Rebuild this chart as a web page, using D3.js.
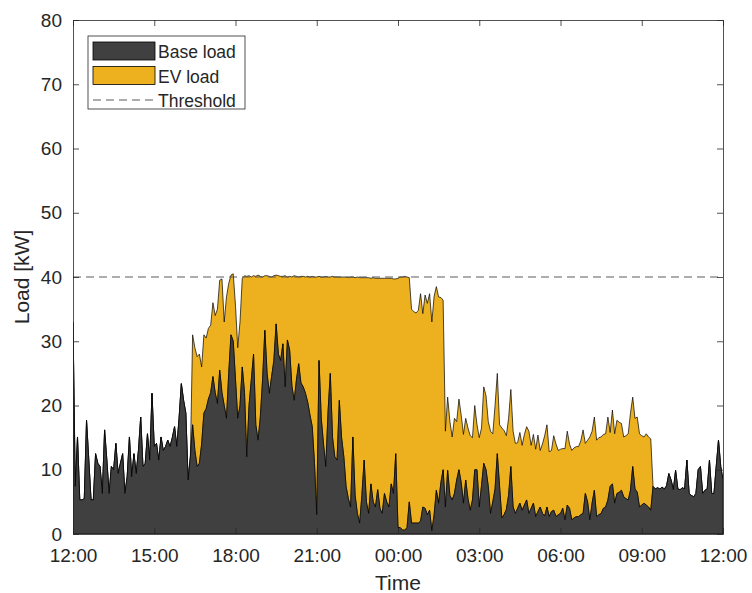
<!DOCTYPE html>
<html>
<head>
<meta charset="utf-8">
<script src="https://cdn.jsdelivr.net/npm/d3@7"></script>
<style>
    body {
        margin: 0;
        background: #fff;
    }

    svg text {
        font-family: "Liberation Sans", Arial, Helvetica, sans-serif;
        fill: #262626;
    }

    .axis path,
    .axis line {
        stroke: #262626;
        stroke-width: 0.8px;
    }

    .axis text {
        font-size: 19px;
    }
</style>
</head>
<body>
<div id="chart"></div>
<script>
    // 5 minute samples, 12:00 -> 12:00 next day, one row per hour
    var startTime = new Date(2020, 0, 1, 12, 0);
    var stepMinutes = 5;

    var baseLoad = [
        33, 7.4, 15.1, 5.3, 5.3, 5.5, 17.7, 11.5, 5.3, 5.3, 12.5, 11,
        10.5, 6.3, 16.2, 11.5, 6.3, 10.5, 10, 14.1, 9.4, 11, 12.5, 6.3,
        8.9, 15.1, 8.9, 12.5, 9.4, 13, 18.2, 10.5, 11, 15.6, 11.5, 21.9,
        13.6, 14.1, 11.5, 15.1, 13, 13.6, 14.6, 13.6, 15, 16.7, 13.6, 18,
        23.4, 20.8, 18.8, 8.4, 12, 17, 13, 10.5, 11, 14, 18.8, 19.5,
        21, 22, 24.5, 22, 20.3, 25.5, 22, 20, 18, 25, 31, 30,
        24, 18, 20, 26, 22, 12, 20, 24, 28, 17, 14.6, 18.2,
        24, 31.7, 25, 21.9, 24.5, 27, 32.7, 28, 27, 29.6, 22.9, 30.2,
        28.6, 23, 20.8, 24, 26.5, 23.5, 22.9, 21.9, 20.5, 18.5, 16.7, 11,
        3, 27, 18, 14, 10.5, 19, 25, 15, 12, 11.5, 20.8, 15,
        12, 7.4, 5.5, 4.2, 15.1, 6, 3.2, 1.7, 6, 11.5, 5, 3.2,
        7.8, 5, 4.2, 6.9, 4, 3.2, 6.3, 5, 4.2, 7.8, 6.3, 12.5,
        1, 1, 0.6, 0.6, 1, 5, 1.7, 1.7, 1.7, 1.7, 2, 4.2,
        4, 3, 3.7, 0.5, 3, 6.8, 4.8, 8, 10, 4.2, 9.9, 6,
        5.3, 6.3, 8.4, 10, 8, 4.8, 8.4, 5.5, 3.7, 5.3, 10, 10,
        4.2, 7.5, 11, 10, 7.4, 3.2, 5, 7, 12.5, 7.4, 2.5, 3,
        3.8, 6, 10.5, 4.2, 3.2, 4, 4.8, 3.7, 4.5, 5.3, 3.2, 4,
        4.8, 2.7, 3.5, 4.2, 3.2, 2.8, 4.2, 2.7, 3.5, 3.7, 2.7, 3,
        3.2, 4, 2.2, 4.5, 4, 2.2, 2.5, 2.7, 2.7, 3, 3.2, 6.3,
        5, 2.2, 4.8, 6.8, 2.7, 3, 3.2, 4, 4.2, 5.3, 7.4, 7.8,
        4.8, 6.3, 6.5, 6.8, 5.8, 5.5, 5.3, 6.8, 10.5, 7, 6.5, 4.2,
        4.5, 4.8, 4.5, 4.2, 3.7, 7.4, 7, 7.2, 7, 7.3, 7, 7.5,
        9.4, 8.4, 6.9, 9.9, 7, 6.9, 7.2, 7, 11.5, 6.3, 6, 5.8,
        6.3, 10, 10.5, 6.3, 6.8, 7, 11.5, 6.3, 6.3, 10.5, 14.6, 10.5,
        8.4
    ];

    var evLoad = [
        0, 0, 0, 0, 0, 0, 0, 0, 0, 0, 0, 0,
        0, 0, 0, 0, 0, 0, 0, 0, 0, 0, 0, 0,
        0, 0, 0, 0, 0, 0, 0, 0, 0, 0, 0, 0,
        0, 0, 0, 0, 0, 0, 0, 0, 0, 0, 0, 0,
        0, 0, 0, 0, 0, 14, 16, 17.1, 17, 12, 12.2, 11,
        11, 10.5, 11.5, 12, 14.7, 14, 17.7, 13, 18.9, 14, 9.3, 10.5,
        11.5, 11, 13, 13.8, 18.2, 28.1, 20.2, 16, 12.2, 23.1, 25.7, 21.9,
        16, 8.5, 15.2, 18.2, 15.5, 13.2, 7.6, 12.2, 13.1, 10.5, 17.3, 9.8,
        11.5, 17, 19.4, 16.1, 13.5, 16.6, 17.2, 18.1, 19.6, 21.5, 23.4, 29,
        37, 13.1, 22, 26, 29.6, 21, 15, 25.1, 28, 28.5, 19.2, 25,
        28, 32.6, 34.4, 35.8, 24.9, 33.9, 36.8, 38.2, 33.9, 28.4, 34.9, 36.7,
        32, 34.9, 35.6, 32.9, 35.8, 36.6, 33.5, 34.8, 35.6, 32, 33.4, 27.2,
        38.8, 39, 39.4, 39.5, 39, 34.9, 33.3, 32.9, 32.7, 33.1, 35.4, 30.1,
        33.2, 32.9, 33.7, 32.5, 34, 31.7, 32.1, 28.8, 26.4, 11.8, 11.4, 11.5,
        9.8, 11.7, 9.1, 11, 10.5, 10.7, 9.6, 11, 11.6, 9.7, 10, 7,
        10.8, 9, 11.9, 11.5, 10.1, 12.8, 10.6, 13, 12.5, 9.6, 14, 13.1,
        11.5, 12, 12, 11.8, 10.9, 10.2, 11, 10.1, 11, 11.4, 12.8, 9.8,
        10.7, 10.5, 11.9, 8.8, 10.8, 12.5, 12.8, 10.1, 9.5, 11.6, 11.3, 10,
        10, 9.3, 11.1, 11.5, 10, 10.8, 10.9, 10.9, 10.9, 11.5, 13, 7.8,
        9.6, 12.9, 11.2, 11.4, 11.9, 12, 11.9, 11.5, 11.4, 12.9, 8.4, 11.5,
        10.8, 11.4, 10.9, 10.4, 9.3, 9.8, 10.3, 12, 10.8, 11, 11.7, 11.4,
        10.8, 10.3, 11.1, 10.9, 11.1, 0, 0, 0, 0, 0, 0, 0,
        0, 0, 0, 0, 0, 0, 0, 0, 0, 0, 0, 0,
        0, 0, 0, 0, 0, 0, 0, 0, 0, 0, 0, 0,
        0
    ];

    var threshold = 40;
    var yTicks = [0, 10, 20, 30, 40, 50, 60, 70, 80];
    var xTickHours = [0, 3, 6, 9, 12, 15, 18, 21, 24];
    var seriesNames = ['Base load', 'EV load'];
    var seriesColors = ['#404040', '#edb120'];

    var width = 752,
        height = 593,
        margin = { left: 73, right: 29, top: 20, bottom: 59 };

    var svg = d3.select('#chart').append('svg')
        .attr('width', width)
        .attr('height', height);

    var endTime = d3.timeHour.offset(startTime, 24);

    var x = d3.scaleTime()
        .domain([startTime, endTime])
        .range([margin.left, width - margin.right]);

    var y = d3.scaleLinear()
        .domain([0, 80])
        .range([height - margin.bottom, margin.top]);

    var rows = baseLoad.map(function (b, i) {
        return {
            time: d3.timeMinute.offset(startTime, i * stepMinutes),
            base: b,
            ev: evLoad[i]
        };
    });

    var stack = d3.stack().keys(['base', 'ev']);
    var layers = stack(rows);

    svg.append('clipPath').attr('id', 'plotClip')
        .append('rect')
        .attr('x', x.range()[0])
        .attr('y', y.range()[1])
        .attr('width', x.range()[1] - x.range()[0])
        .attr('height', y.range()[0] - y.range()[1]);

    var area = d3.area()
        .x(function (d) { return x(d.data.time); })
        .y0(function (d) { return y(d[0]); })
        .y1(function (d) { return y(d[1]); });

    var plot = svg.append('g').attr('clip-path', 'url(#plotClip)');

    // draw EV first so the base outline sits on top
    plot.selectAll('path.layer')
        .data(layers.slice().reverse())
        .enter().append('path')
        .attr('class', 'layer')
        .attr('d', area)
        .style('fill', function (d) { return seriesColors[d.index]; })
        .style('stroke', '#000')
        .style('stroke-width', 0.7)
        .style('stroke-linejoin', 'round');

    plot.append('line')
        .attr('x1', x.range()[0])
        .attr('x2', x.range()[1])
        .attr('y1', y(threshold))
        .attr('y2', y(threshold))
        .style('stroke', '#5a5a5a')
        .style('stroke-width', 1)
        .style('stroke-dasharray', '8,5');

    var xTicks = xTickHours.map(function (h) { return d3.timeHour.offset(startTime, h); });
    var fmt = d3.timeFormat('%H:%M');

    svg.append('g').attr('class', 'axis')
        .attr('transform', 'translate(0,' + y(0) + ')')
        .call(d3.axisBottom(x).tickValues(xTicks).tickFormat(fmt)
            .tickSizeInner(-6).tickSizeOuter(0).tickPadding(15));

    svg.append('g').attr('class', 'axis')
        .attr('transform', 'translate(0,' + y(80) + ')')
        .call(d3.axisTop(x).tickValues(xTicks).tickFormat('')
            .tickSizeInner(-6).tickSizeOuter(0));

    svg.append('g').attr('class', 'axis')
        .attr('transform', 'translate(' + x.range()[0] + ',0)')
        .call(d3.axisLeft(y).tickValues(yTicks)
            .tickSizeInner(-6).tickSizeOuter(0).tickPadding(11));

    svg.append('g').attr('class', 'axis')
        .attr('transform', 'translate(' + x.range()[1] + ',0)')
        .call(d3.axisRight(y).tickValues(yTicks).tickFormat('')
            .tickSizeInner(-6).tickSizeOuter(0));

    svg.append('text')
        .attr('x', (x.range()[0] + x.range()[1]) / 2)
        .attr('y', 590)
        .attr('text-anchor', 'middle')
        .style('font-size', '21px')
        .text('Time');

    svg.append('text')
        .attr('transform', 'translate(28.5,' + y(40) + ') rotate(-90)')
        .attr('text-anchor', 'middle')
        .style('font-size', '21px')
        .text('Load [kW]');

    // legend
    var legend = svg.append('g').attr('class', 'legend');

    legend.append('rect')
        .attr('x', 88)
        .attr('y', 36)
        .attr('width', 157)
        .attr('height', 73)
        .style('fill', '#fff')
        .style('stroke', '#262626')
        .style('stroke-width', 0.8);

    seriesNames.forEach(function (name, i) {
        legend.append('rect')
            .attr('x', 93)
            .attr('y', 42 + i * 24.5)
            .attr('width', 62)
            .attr('height', 18)
            .style('fill', seriesColors[i])
            .style('stroke', '#000')
            .style('stroke-width', 0.8);

        legend.append('text')
            .attr('x', 158)
            .attr('y', 58 + i * 24.5)
            .style('font-size', '17.5px')
            .text(name);
    });

    legend.append('line')
        .attr('x1', 93)
        .attr('x2', 155)
        .attr('y1', 100)
        .attr('y2', 100)
        .style('stroke', '#5a5a5a')
        .style('stroke-width', 1)
        .style('stroke-dasharray', '8,5');

    legend.append('text')
        .attr('x', 158)
        .attr('y', 107)
        .style('font-size', '17.5px')
        .text('Threshold');
</script>
</body>
</html>
